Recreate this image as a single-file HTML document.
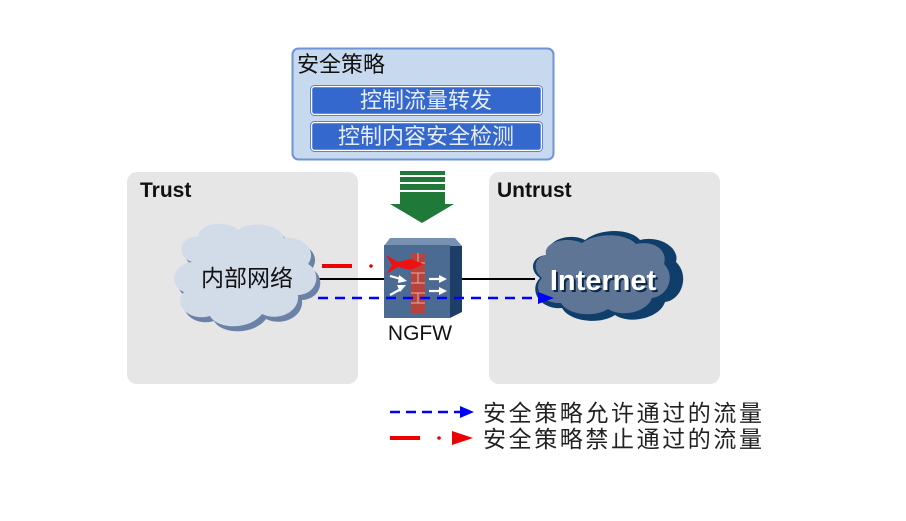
<!DOCTYPE html>
<html><head><meta charset="utf-8"><style>
html,body{margin:0;padding:0;background:#fff;}
svg{display:block;}
.cj{font-family:"Liberation Sans","Noto Sans CJK SC",sans-serif;}
.ls{font-family:"Liberation Sans",sans-serif;}
</style></head><body>
<svg width="906" height="521" viewBox="0 0 906 521" xmlns="http://www.w3.org/2000/svg">
<!-- zones -->
<rect x="127" y="172" width="231" height="212" rx="10" fill="#e6e6e6"/>
<rect x="489" y="172" width="231" height="212" rx="10" fill="#e6e6e6"/>
<text x="140" y="197" class="ls" font-size="21" font-weight="bold" fill="#111">Trust</text>
<text x="497" y="197" class="ls" font-size="21" font-weight="bold" fill="#111">Untrust</text>
<!-- policy box -->
<rect x="292.5" y="48.5" width="261" height="111" rx="6" fill="#c6d9ee" stroke="#6f94d8" stroke-width="2"/>
<text x="297" y="72" class="cj" font-size="22" fill="#111">安全策略</text>
<rect x="311.5" y="86.5" width="230" height="28" rx="3" fill="#3568cc" stroke="#fff" stroke-width="1.5"/>
<rect x="310.5" y="85.5" width="232" height="30" rx="4" fill="none" stroke="#5a82d6" stroke-width="1"/>
<text x="426" y="108" class="cj" font-size="22" fill="#e8eef8" text-anchor="middle">控制流量转发</text>
<rect x="311.5" y="122.5" width="230" height="28" rx="3" fill="#3568cc" stroke="#fff" stroke-width="1.5"/>
<rect x="310.5" y="121.5" width="232" height="30" rx="4" fill="none" stroke="#5a82d6" stroke-width="1"/>
<text x="426" y="144" class="cj" font-size="22" fill="#e8eef8" text-anchor="middle">控制内容安全检测</text>
<!-- green arrow -->
<rect x="400" y="171" width="45" height="4" fill="#1f7a3a"/>
<rect x="400" y="177" width="45" height="5" fill="#1f7a3a"/>
<rect x="400" y="184" width="45" height="6" fill="#1f7a3a"/>
<rect x="400" y="192" width="45" height="13" fill="#1f7a3a"/>
<path d="M390,204 L454,204 L422,223 z" fill="#1f7a3a"/>
<!-- lines -->
<line x1="318" y1="279" x2="535" y2="279" stroke="#000" stroke-width="2"/>
<!-- left cloud -->
<g transform="translate(4,5)" fill="#6b82a6">
<path d="M192,262 C178,258 176,238 198,236 C200,222 228,220 238,230 C252,220 280,224 284,238 C302,236 318,250 308,264 C322,272 318,294 298,295 C300,312 278,322 262,314 C250,330 218,330 210,316 C190,322 172,305 184,292 C168,286 172,264 192,262 z"/>
</g>
<path d="M192,262 C178,258 176,238 198,236 C200,222 228,220 238,230 C252,220 280,224 284,238 C302,236 318,250 308,264 C322,272 318,294 298,295 C300,312 278,322 262,314 C250,330 218,330 210,316 C190,322 172,305 184,292 C168,286 172,264 192,262 z" fill="#d2dce8"/>
<text x="247" y="286" class="cj" font-size="23" fill="#111" text-anchor="middle">内部网络</text>
<!-- internet cloud -->
<path d="M548,255 C545,240 570,232 585,240 C600,228 630,228 640,240 C660,235 680,248 676,262 C690,275 682,300 665,302 C660,318 630,325 615,315 C600,325 570,322 562,308 C540,310 528,290 540,278 C528,270 532,255 548,255 z" fill="#0f3e6a"/>
<path d="M546,255 C543,242 566,236 582,243 C597,232 626,233 636,244 C654,240 668,250 664,264 C676,276 668,296 652,298 C647,312 622,318 608,309 C594,318 568,315 561,303 C542,304 532,288 542,278 C532,270 534,257 546,255 z" fill="#5e7596"/>
<text x="603" y="290" class="ls" font-size="29" font-weight="bold" fill="#0a2a4a" text-anchor="middle" transform="translate(2,2)">Internet</text>
<text x="603" y="290" class="ls" font-size="29" font-weight="bold" fill="#fff" text-anchor="middle">Internet</text>
<!-- firewall -->
<path d="M390,238 L455,238 L462,246 L450,246 L384,246 z" fill="#7791b3"/>
<path d="M450,246 L462,246 L462,312 L450,318 z" fill="#1e3e68"/>
<rect x="384" y="245" width="66" height="73" fill="#4c6b93"/>
<rect x="411" y="253" width="14" height="60" fill="#b8423c"/>
<g stroke="#e8b0a8" stroke-width="1">
<line x1="411" y1="263" x2="425" y2="263"/><line x1="411" y1="273" x2="425" y2="273"/><line x1="411" y1="283" x2="425" y2="283"/><line x1="411" y1="293" x2="425" y2="293"/><line x1="411" y1="303" x2="425" y2="303"/>
<line x1="418" y1="253" x2="418" y2="263"/><line x1="418" y1="273" x2="418" y2="283"/><line x1="418" y1="293" x2="418" y2="303"/>
</g>
<g stroke="#fff" stroke-width="2.2">
<line x1="390" y1="276" x2="401" y2="279"/><line x1="390" y1="295" x2="401" y2="289"/>
<line x1="429" y1="279" x2="440" y2="279"/><line x1="429" y1="291" x2="440" y2="291"/>
</g>
<g fill="#fff">
<path d="M399,275 L407,281 L398,283 z"/><path d="M397,285 L406,285 L400,292 z"/>
<path d="M439,275 L447,279 L439,283 z"/><path d="M439,287 L447,291 L439,295 z"/>
</g>
<path d="M386,255 L398,262 L410,259 L424,264 L410,270 L398,267 L386,274 L392,265 z" fill="#ee1111"/>
<text x="420" y="340" class="ls" font-size="21" fill="#111" text-anchor="middle">NGFW</text>
<!-- red flow -->
<line x1="322" y1="266" x2="352" y2="266" stroke="#ee0000" stroke-width="4"/>
<circle cx="371" cy="266" r="1.8" fill="#ee0000"/>
<!-- blue flow -->
<line x1="318" y1="298" x2="540" y2="298" stroke="#0000ff" stroke-width="2.5" stroke-dasharray="10,7"/>
<path d="M538,292 L554,298 L538,304 z" fill="#0000ff"/>
<!-- legend -->
<line x1="390" y1="412" x2="460" y2="412" stroke="#0000ff" stroke-width="2.5" stroke-dasharray="10,6"/>
<path d="M460,406 L474,412 L460,418 z" fill="#0000ff"/>
<line x1="390" y1="438" x2="420" y2="438" stroke="#ee0000" stroke-width="4"/>
<circle cx="439" cy="438" r="1.8" fill="#ee0000"/>
<path d="M452,431 L473,438 L452,445 z" fill="#ee0000"/>
<text x="483" y="421" class="cj" font-size="23" fill="#222" letter-spacing="2.6">安全策略允许通过的流量</text>
<text x="483" y="447" class="cj" font-size="23" fill="#222" letter-spacing="2.6">安全策略禁止通过的流量</text>
</svg>
</body></html>
